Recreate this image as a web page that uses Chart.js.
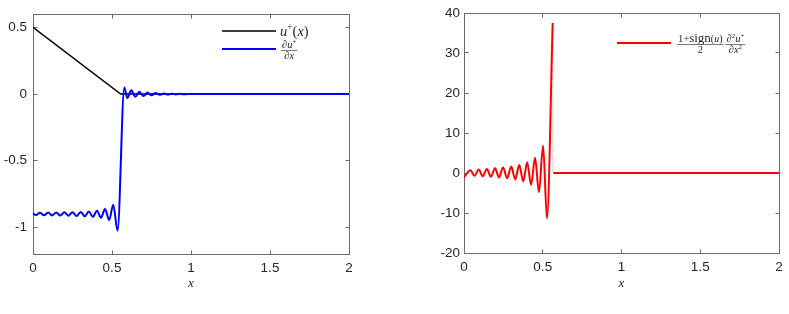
<!DOCTYPE html>
<html>
<head>
<meta charset="utf-8">
<script src="https://cdn.jsdelivr.net/npm/chart.js@4.4.1/dist/chart.umd.min.js"></script>
<style>
  body { margin: 0; background: #fff; }
  #wrap { position: relative; width: 789px; height: 314px; }
  canvas { position: absolute; top: 0; }
</style>
</head>
<body>
<div id="wrap">
  <canvas id="leftChart" width="400" height="314" style="left:0"></canvas>
  <canvas id="rightChart" width="389" height="314" style="left:400px"></canvas>
</div>
<script>
// --- data ---
const xTicks = [0, 0.5, 1, 1.5, 2];
const leftYTicks = [-1, -0.5, 0, 0.5];
const rightYTicks = [-20, -10, 0, 10, 20, 30, 40];

// u+(x)
const uPlusX = [0, 0.555, 2];
const uPlusY = [0.5, 0, 0];

// du+/dx
const duX = [0, 0.018, 0.044, 0.07, 0.096, 0.121, 0.147, 0.173, 0.199, 0.224, 0.25, 0.276, 0.302,
  0.327, 0.353, 0.379, 0.405, 0.43, 0.456, 0.482, 0.508, 0.535, 0.578, 0.597, 0.622, 0.648,
  0.673, 0.699, 0.725, 0.75, 0.776, 0.802, 0.828, 0.853, 0.879, 0.905, 0.93, 0.956, 0.98, 2];
const duY = [-0.895, -0.908, -0.89, -0.91, -0.889, -0.911, -0.888, -0.912, -0.887, -0.913, -0.886, -0.915, -0.884,
  -0.917, -0.881, -0.921, -0.875, -0.928, -0.862, -0.945, -0.83, -1.025, 0.05, -0.03, 0.028, -0.02,
  0.017, -0.014, 0.011, -0.009, 0.008, -0.006, 0.005, -0.004, 0.003, -0.003, 0.002, -0.001, 0, 0];

// (1+sign(u))/2 * d2u+/dx2
const d2uX = [0, 0.04, 0.067, 0.093, 0.119, 0.145, 0.171, 0.197, 0.222, 0.248, 0.274, 0.3, 0.325,
  0.351, 0.376, 0.401, 0.426, 0.451, 0.476, 0.502, 0.527, 0.563, 0.565, 0.567, 2];
const d2uY = [-1.1, 0.7, -0.7, 0.85, -0.8, 1.0, -0.95, 1.2, -1.1, 1.4, -1.3, 1.65, -1.6,
  2.0, -2.1, 2.7, -3.0, 3.8, -4.8, 6.9, -11.4, 37.5, null, 0, 0];
// faint drop at the jump
const jumpX = [0.564, 0.564];
const jumpY = [37.5, 0];

const AXIS_COLOR = '#6b6b6b';
const TEXT_COLOR = '#262626';
const SANS = '"Liberation Sans", Arial, sans-serif';
const SERIF = '"Liberation Serif", "Times New Roman", serif';

function pts(xs, ys) {
  return xs.map((x, i) => ({ x: x, y: ys[i] }));
}

// box with inward ticks on all four sides
const boxPlugin = {
  id: 'matlabBox',
  beforeDatasetsDraw(chart) {
    const { ctx, chartArea: a, scales } = chart;
    const L = Math.floor(a.left) + 0.5, R = Math.floor(a.right) + 0.5;
    const T = Math.floor(a.top) + 0.5, B = Math.floor(a.bottom) + 0.5;
    const tl = 4;
    ctx.save();
    ctx.strokeStyle = AXIS_COLOR;
    ctx.lineWidth = 1;
    ctx.strokeRect(L, T, R - L, B - T);
    ctx.beginPath();
    scales.x.ticks.forEach(t => {
      const px = Math.floor(scales.x.getPixelForValue(t.value)) + 0.5;
      ctx.moveTo(px, B); ctx.lineTo(px, B - tl);
      ctx.moveTo(px, T); ctx.lineTo(px, T + tl);
    });
    scales.y.ticks.forEach(t => {
      const py = Math.floor(scales.y.getPixelForValue(t.value)) + 0.5;
      ctx.moveTo(L, py); ctx.lineTo(L + tl, py);
      ctx.moveTo(R, py); ctx.lineTo(R - tl, py);
    });
    ctx.stroke();
    ctx.restore();
  }
};

// draws a run of text pieces [text, font, dy], returns end x
function drawPieces(ctx, x, y, pieces, measureOnly) {
  pieces.forEach(p => {
    ctx.font = p[1];
    if (!measureOnly) ctx.fillText(p[0], x, y + (p[2] || 0));
    x += ctx.measureText(p[0]).width;
  });
  return x;
}
function piecesWidth(ctx, pieces) {
  return drawPieces(ctx, 0, 0, pieces, true);
}
function drawFraction(ctx, x, yBar, num, den) {
  const nw = piecesWidth(ctx, num), dw = piecesWidth(ctx, den);
  const w = Math.max(nw, dw) + 2;
  drawPieces(ctx, x + (w - nw) / 2, yBar - 2.5, num);
  drawPieces(ctx, x + (w - dw) / 2, yBar + 9, den);
  ctx.save();
  ctx.strokeStyle = '#444';
  ctx.lineWidth = 0.7;
  ctx.beginPath();
  ctx.moveTo(x, yBar + 0.5); ctx.lineTo(x + w, yBar + 0.5);
  ctx.stroke();
  ctx.restore();
  return x + w;
}

const leftLegend = {
  id: 'leftLegend',
  afterDraw(chart) {
    const ctx = chart.ctx;
    ctx.save();
    ctx.lineWidth = 1.5;
    ctx.strokeStyle = '#000';
    ctx.beginPath(); ctx.moveTo(222, 31); ctx.lineTo(276, 31); ctx.stroke();
    ctx.lineWidth = 2;
    ctx.strokeStyle = '#0000ff';
    ctx.beginPath(); ctx.moveTo(222, 49); ctx.lineTo(276, 49); ctx.stroke();
    ctx.fillStyle = TEXT_COLOR;
    ctx.textBaseline = 'alphabetic';
    drawPieces(ctx, 280, 36, [
      ['u', 'italic 14.5px ' + SERIF],
      ['+', '9.5px ' + SERIF, -6],
      ['(', '14.5px ' + SERIF],
      ['x', 'italic 14.5px ' + SERIF],
      [')', '14.5px ' + SERIF]
    ]);
    drawFraction(ctx, 281, 50,
      [['∂', '10.5px ' + SERIF], ['u', 'italic 10.5px ' + SERIF], ['+', '7px ' + SERIF, -4]],
      [['∂', '10.5px ' + SERIF], ['x', 'italic 10.5px ' + SERIF]]);
    ctx.restore();
  }
};

const rightLegend = {
  id: 'rightLegend',
  afterDraw(chart) {
    const ctx = chart.ctx;
    ctx.save();
    ctx.lineWidth = 2;
    ctx.strokeStyle = '#ff0000';
    ctx.beginPath(); ctx.moveTo(217, 43); ctx.lineTo(271, 43); ctx.stroke();
    ctx.fillStyle = TEXT_COLOR;
    ctx.textBaseline = 'alphabetic';
    const x1 = drawFraction(ctx, 277, 44,
      [['1+', '10.5px ' + SERIF], ['sign', '13px ' + SERIF], ['(', '10px ' + SERIF],
       ['u', 'italic 10px ' + SERIF], [')', '10px ' + SERIF]],
      [['2', '10.5px ' + SERIF]]);
    drawFraction(ctx, x1 + 2, 44,
      [['∂', '10.5px ' + SERIF], ['2', '7px ' + SERIF, -4], ['u', 'italic 10.5px ' + SERIF], ['+', '7px ' + SERIF, -4]],
      [['∂', '10.5px ' + SERIF], ['x', 'italic 10.5px ' + SERIF], ['2', '7px ' + SERIF, -4]]);
    ctx.restore();
  }
};

function makeOptions(yTicks, yMin, yMax, yWidth, xHeight, pad, yPad) {
  return {
    responsive: false,
    devicePixelRatio: 1,
    animation: false,
    layout: { padding: pad },
    plugins: { legend: { display: false }, tooltip: { enabled: false } },
    elements: { point: { radius: 0 } },
    scales: {
      x: {
        type: 'linear', min: 0, max: 2,
        afterBuildTicks: s => { s.ticks = xTicks.map(v => ({ value: v })); },
        afterFit: s => { s.height = xHeight; },
        grid: { display: false, drawTicks: false },
        border: { display: false },
        ticks: { color: TEXT_COLOR, font: { family: SANS, size: 13.5 }, padding: 6, maxRotation: 0,
                 callback: v => String(v) },
        title: { display: true, text: 'x', color: TEXT_COLOR,
                 font: { family: SERIF, size: 13, style: 'italic' }, padding: { top: 0, bottom: 23 } }
      },
      y: {
        type: 'linear', min: yMin, max: yMax,
        afterBuildTicks: s => { s.ticks = yTicks.map(v => ({ value: v })); },
        afterFit: s => { s.width = yWidth; },
        grid: { display: false, drawTicks: false },
        border: { display: false },
        ticks: { color: TEXT_COLOR, font: { family: SANS, size: 13.5 }, padding: yPad,
                 callback: v => String(v) }
      }
    }
  };
}

new Chart(document.getElementById('leftChart'), {
  type: 'scatter',
  data: {
    datasets: [
      { data: pts(duX, duY), showLine: true, borderColor: '#0000ff', borderWidth: 2,
        cubicInterpolationMode: 'monotone', order: 0 },
      { data: pts(uPlusX, uPlusY), showLine: true, borderColor: '#000000', borderWidth: 1.5,
        tension: 0, order: 1 }
    ]
  },
  options: makeOptions(leftYTicks, -1.2, 0.6, 33, 60, { top: 11, right: 51, left: 0, bottom: 0 }, 6),
  plugins: [boxPlugin, leftLegend]
});

new Chart(document.getElementById('rightChart'), {
  type: 'scatter',
  data: {
    datasets: [
      { data: pts(d2uX, d2uY), showLine: true, borderColor: '#ff0000', borderWidth: 2,
        cubicInterpolationMode: 'monotone', spanGaps: false, order: 0 },
      { data: pts(jumpX, jumpY), showLine: true, borderColor: 'rgba(255,90,90,0.55)', borderWidth: 1,
        borderDash: [1, 1], order: 1 }
    ]
  },
  options: makeOptions(rightYTicks, -20, 40, 64, 61, { top: 13, right: 10, left: 0, bottom: 0 }, 4),
  plugins: [boxPlugin, rightLegend]
});
</script>
</body>
</html>
